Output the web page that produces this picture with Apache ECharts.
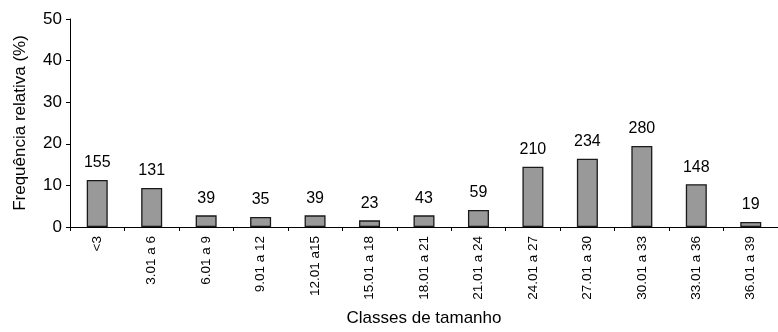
<!DOCTYPE html>
<html>
<head>
<meta charset="utf-8">
<script src="https://cdn.jsdelivr.net/npm/echarts@6/dist/echarts.min.js"></script>
<style>
  html, body { margin: 0; padding: 0; background: #fff; }
  #chart { width: 778px; height: 332px; }
</style>
</head>
<body>
<div id="chart"></div>
<script>
// classes de tamanho
var classes = ['<3', '3.01 a 6', '6.01 a 9', '9.01 a 12', '12.01 a15', '15.01 a 18', '18.01 a 21',
  '21.01 a 24', '24.01 a 27', '27.01 a 30', '30.01 a 33', '33.01 a 36', '36.01 a 39'];
// frequencia relativa (%)
var freq = [11.3, 9.4, 2.8, 2.4, 2.8, 1.6, 2.8, 4.1, 14.5, 16.4, 19.5, 10.3, 1.2];
// numero de individuos por classe (rotulos)
var counts = [155, 131, 39, 35, 39, 23, 43, 59, 210, 234, 280, 148, 19];
var yTicks = [0, 10, 20, 30, 40, 50];

var font = "'Liberation Sans', Arial, sans-serif";
var chart = echarts.init(document.getElementById('chart'));
chart.setOption({
  animation: false,
  grid: { left: 70, right: -10, top: 19, bottom: 103.5 },
  xAxis: {
    type: 'category',
    data: classes,
    name: 'Classes de tamanho',
    nameLocation: 'middle',
    nameGap: 83,
    nameTextStyle: { fontFamily: font, fontSize: 17, color: '#000' },
    axisLine: { lineStyle: { color: '#000', width: 1 } },
    axisTick: { show: true, length: 4, lineStyle: { color: '#000' } },
    axisLabel: { rotate: 90, interval: 0, margin: 9, fontFamily: font, fontSize: 13.5, color: '#000' }
  },
  yAxis: {
    type: 'value',
    min: yTicks[0],
    max: yTicks[yTicks.length - 1],
    interval: 10,
    name: 'Frequência relativa (%)',
    nameLocation: 'middle',
    nameGap: 41,
    nameTextStyle: { fontFamily: font, fontSize: 17, color: '#000' },
    axisLine: { show: true, lineStyle: { color: '#000', width: 1 } },
    axisTick: { show: true, length: 4, lineStyle: { color: '#000' } },
    axisLabel: { margin: 8, fontFamily: font, fontSize: 17, color: '#000' },
    splitLine: { show: false }
  },
  series: [{
    type: 'bar',
    data: freq,
    barWidth: 21,
    itemStyle: { color: '#999999', borderColor: '#1a1a1a', borderWidth: 1.3 },
    label: {
      show: true,
      position: 'top',
      distance: 9,
      fontFamily: font,
      fontSize: 16,
      color: '#000',
      formatter: function (p) { return counts[p.dataIndex]; }
    }
  }]
});
</script>
</body>
</html>
